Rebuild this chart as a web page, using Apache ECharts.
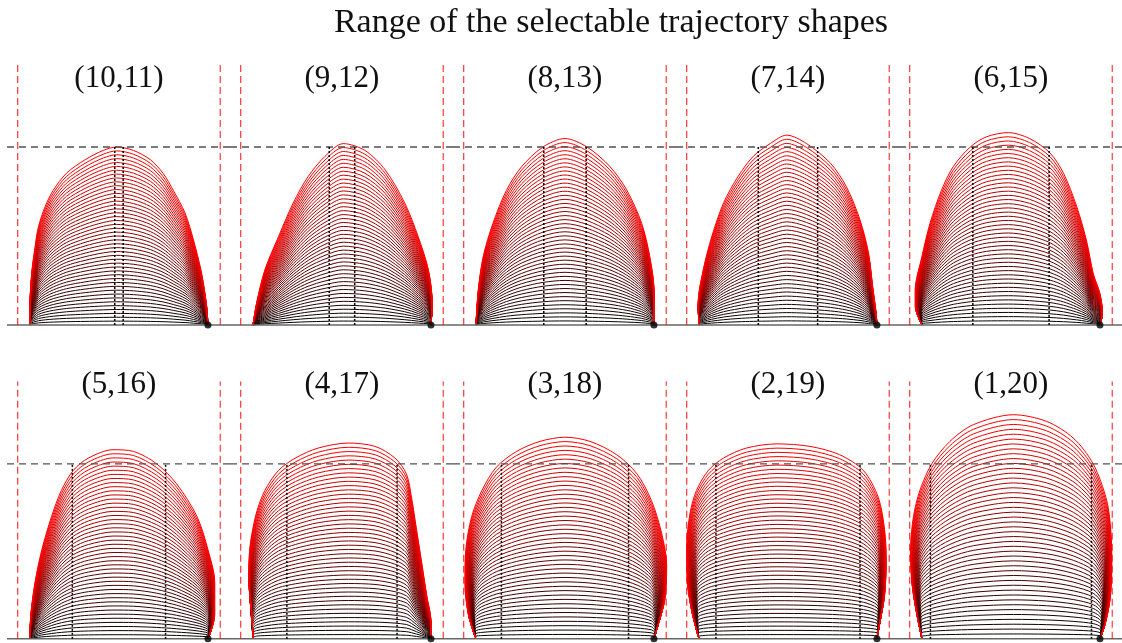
<!DOCTYPE html>
<html>
<head>
<meta charset="utf-8">
<title>trajectory shapes</title>
<script src="https://cdn.jsdelivr.net/npm/echarts@6/dist/echarts.min.js"></script>
<style>
html, body { margin: 0; padding: 0; background: #fff; }
#main { width: 1122px; height: 643px; }
</style>
</head>
<body>
<div id="main"></div>
<script>
/* data */
var chartTitle = 'Range of the selectable trajectory shapes';
var pairs = [[10,11],[9,12],[8,13],[7,14],[6,15],[5,16],[4,17],[3,18],[2,19],[1,20]];
var startX = 0, endX = 21;      // foot points of every trajectory
var refHeight = 21;             // dashed height line
var wallX = [-1.45, 22.45];     // red dashed limits
var wallTop = 30.9;
var curveCount = 46;            // trajectories drawn per panel

// highest (reddest) trajectory of each panel, [x, height]
var top10_11 = [[0,0],[0,2.2],[0.2,6.1],[0.6,9.2],[1.0,11.6],[1.8,14.0],[2.75,15.9],[4.3,17.9],[6.5,19.5],[8.65,20.6],[10.2,21.0],[12.2,20.6],[14.2,19.5],[15.7,17.9],[16.9,15.9],[18.3,13.2],[19.3,10.0],[20.25,6.1],[20.85,2.2],[21,0]];
var top9_12 = [[0,0],[0.43,2.6],[1.4,6.5],[3.0,10.4],[4.75,14.4],[6.5,17.5],[8.5,19.9],[10.65,21.4],[13.2,20.6],[15.6,18.3],[17.9,14.4],[19.5,10.4],[20.7,6.5],[21.15,2.6],[21,0]];
var top8_13 = [[0,0],[0.27,4.1],[0.86,8.1],[2.0,12.0],[3.6,15.9],[5.4,18.7],[7.9,21.0],[10.5,22.0],[13.1,21.0],[15.8,18.7],[17.8,15.9],[19.55,12.0],[20.5,8.1],[21.0,4.1],[21,0]];
var top7_14 = [[0,0],[-0.1,2.6],[0.5,6.5],[1.5,10.4],[2.9,14.4],[4.6,17.5],[6.4,19.9],[8.4,21.4],[10.35,22.4],[12.7,21.4],[15.5,19.1],[17.4,16.3],[19.0,12.4],[20.0,8.5],[20.5,4.5],[20.9,1.4],[21,0]];
var top6_15 = [[0,0],[-0.8,2.2],[-0.8,4.1],[0,8.1],[0.95,12.0],[2.3,15.9],[3.7,18.7],[5.7,21.0],[7.6,22.2],[10.2,22.7],[12.7,22.0],[15.1,20.3],[16.7,17.9],[18.25,14.0],[19.4,10.0],[20.2,6.1],[21.0,3.7],[21.3,1.4],[21,0]];
var top5_16 = [[0,0],[0.1,2.9],[0.6,6.8],[1.4,10.7],[2.55,14.7],[3.7,17.8],[5.1,20.2],[6.9,21.7],[9.8,22.7],[12.2,22.5],[14.95,21.0],[17.3,18.6],[19.7,14.7],[21.0,10.7],[21.8,6.8],[21.8,2.9],[21,0]];
var top4_17 = [[0,0],[-0.15,3.3],[-0.5,7.2],[-0.35,11.1],[0.4,15.1],[1.4,17.8],[3.0,20.2],[5.0,21.7],[7.7,22.9],[11.25,23.5],[14.4,23.1],[16.75,21.7],[18.1,19.8],[18.7,17.0],[19.3,13.1],[19.9,9.2],[20.5,5.2],[21.0,2.1],[21,0]];
var top3_18 = [[0,0],[-0.9,2.9],[-1.3,6.8],[-1.2,10.7],[-0.5,14.7],[0.7,17.8],[2.4,20.6],[4.8,22.5],[7.55,23.7],[10.5,24.2],[13.45,23.7],[16.6,22.1],[19.0,19.8],[20.7,16.6],[21.9,12.7],[22.5,8.8],[22.3,4.8],[21.5,1.7],[21,0]];
var top2_19 = [[0,0],[-0.85,3.3],[-1.4,7.2],[-1.45,11.1],[-1.05,15.1],[-0.3,17.8],[1.1,20.2],[2.9,21.7],[5.6,22.9],[9.2,23.4],[13.1,23.1],[16.6,22.1],[19.4,20.2],[21.15,17.0],[21.9,13.1],[22.1,9.2],[21.9,5.2],[21.35,2.1],[21,0]];
var top1_20 = [[0,0],[-0.6,2.9],[-1.2,6.8],[-1.35,10.7],[-1.0,14.7],[-0.25,17.8],[1.15,21.0],[3.3,23.7],[6.05,25.7],[10.8,26.9],[14.7,26.1],[17.85,24.1],[20.2,21.0],[21.8,16.6],[22.3,12.7],[22.4,8.8],[22.2,4.8],[21.6,1.7],[21,0]];
var topShapes = [top10_11, top9_12, top8_13, top7_14, top6_15, top5_16, top4_17, top3_18, top2_19, top1_20];

/* layout */
var panelLeft0 = 7, panelW = 223;
var pxPerUnit = 8.476;
var rowBase = [325, 641];      // pixel row of the ground line
var rowScale = [8.476, 8.4];
var rowLabelY = [79, 385];
var xMin = -2.71, xMax = xMin + panelW / pxPerUnit;
var yMin = -0.5, yMax = 31.5;
var serif = '"Liberation Serif", "DejaVu Serif", serif';

var chart = echarts.init(document.getElementById('main'));

var grids = [], xAxes = [], yAxes = [], series = [], graphics = [];

function refLine(p, pts, color, dash, width, z) {
    return {
        type: 'line', xAxisIndex: p, yAxisIndex: p, data: pts,
        showSymbol: false, silent: true, z: z,
        lineStyle: { color: color, type: dash, width: width }
    };
}

for (var p = 0; p < pairs.length; p++) {
    var col = p % 5, row = Math.floor(p / 5);
    var left = panelLeft0 + col * panelW;
    grids.push({
        left: left, width: panelW,
        top: rowBase[row] - yMax * rowScale[row],
        height: (yMax - yMin) * rowScale[row]
    });
    xAxes.push({ type: 'value', gridIndex: p, min: xMin, max: xMax, show: false });
    yAxes.push({ type: 'value', gridIndex: p, min: yMin, max: yMax, show: false });

    // family of trajectories, black (low) -> red (high)
    var shape = topShapes[p];
    for (var k = 0; k < curveCount; k++) {
        var t = (k + 1) / curveCount;
        var pts = shape.map(function (pt) {
            var xb = Math.min(Math.max(pt[0], startX), endX);
            return [xb + t * (pt[0] - xb), t * pt[1]];
        });
        series.push({
            type: 'line', xAxisIndex: p, yAxisIndex: p, data: pts,
            smooth: 0.3, showSymbol: false, silent: true, z: 2,
            lineStyle: { color: 'rgb(' + Math.round(255 * t) + ',0,0)', width: 1 }
        });
    }

    // guide lines
    series.push(refLine(p, [[xMin, 0], [xMax, 0]], '#666', 'solid', 1.5, 3));
    series.push(refLine(p, [[xMin, refHeight], [xMax, refHeight]], '#505050', [7, 5], 1.4, 4));
    series.push(refLine(p, [[wallX[0], 0], [wallX[0], wallTop]], 'rgba(255,0,0,0.72)', [7, 4], 1.3, 4));
    series.push(refLine(p, [[wallX[1], 0], [wallX[1], wallTop]], 'rgba(255,0,0,0.72)', [7, 4], 1.3, 4));
    series.push(refLine(p, [[pairs[p][0], 0], [pairs[p][0], refHeight]], '#000', [2, 2], 1.5, 5));
    series.push(refLine(p, [[pairs[p][1], 0], [pairs[p][1], refHeight]], '#000', [2, 2], 1.5, 5));
    series.push({
        type: 'scatter', xAxisIndex: p, yAxisIndex: p, data: [[endX, 0]],
        symbolSize: 7, itemStyle: { color: '#000' }, silent: true, z: 6
    });

    graphics.push({
        type: 'text', x: left + (10.5 - xMin) * pxPerUnit, y: rowLabelY[row],
        style: {
            text: '(' + pairs[p][0] + ',' + pairs[p][1] + ')',
            font: '31px ' + serif, fill: '#111',
            textAlign: 'center', textVerticalAlign: 'middle'
        }
    });
}

graphics.push({
    type: 'text', x: 611, y: 23,
    style: {
        text: chartTitle, font: '34px ' + serif, fill: '#111',
        textAlign: 'center', textVerticalAlign: 'middle'
    }
});

chart.setOption({
    animation: false,
    backgroundColor: '#fff',
    grid: grids,
    xAxis: xAxes,
    yAxis: yAxes,
    series: series,
    graphic: graphics
});
</script>
</body>
</html>
